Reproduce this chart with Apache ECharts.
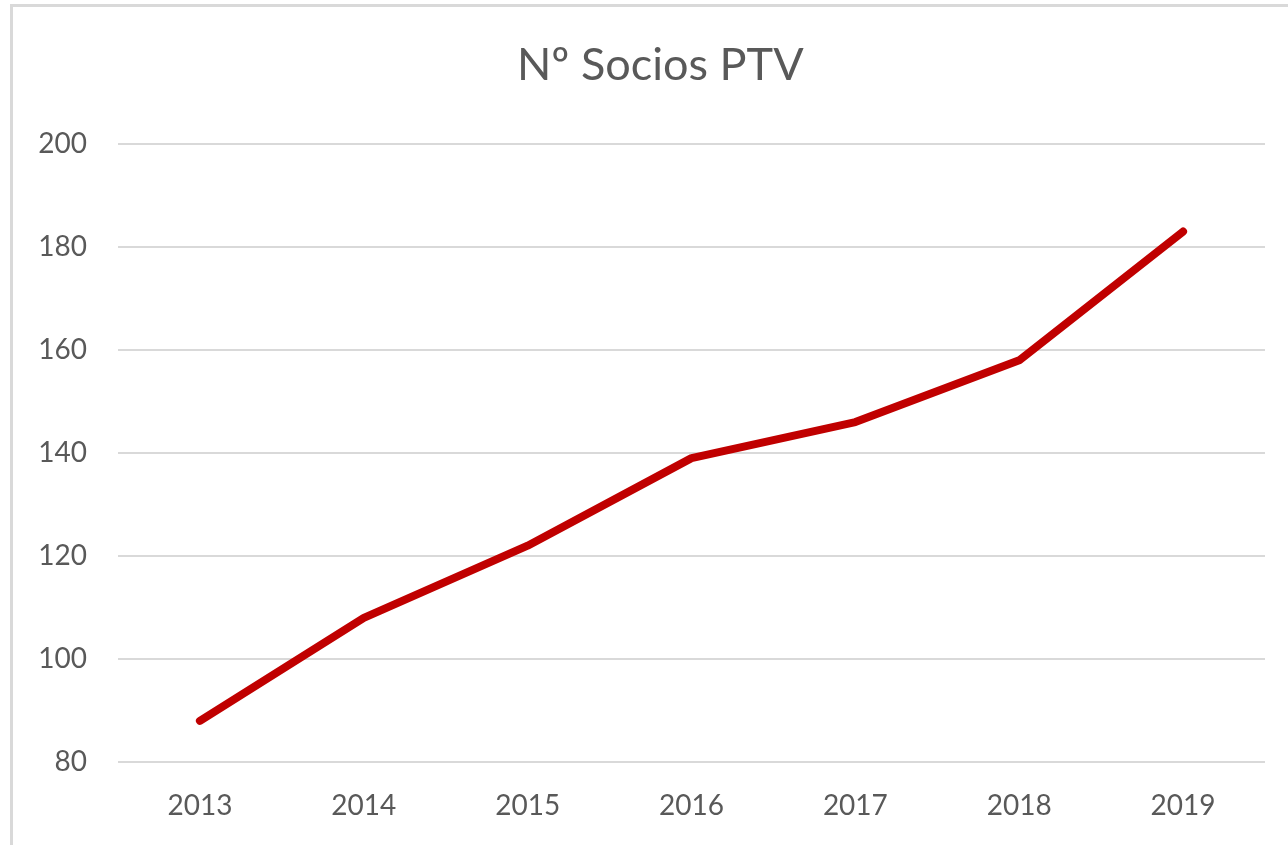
<!DOCTYPE html>
<html>
<head>
<meta charset="utf-8">
<script src="https://cdn.jsdelivr.net/npm/echarts@6/dist/echarts.min.js"></script>
<style>
  html, body { margin: 0; padding: 0; background: #fff; overflow: hidden; }
  #frame { position: absolute; left: 10px; top: 4px; width: 1400px; height: 1000px; border: 3px solid #d9d9d9; box-sizing: border-box; }
  #chart { position: absolute; left: 0; top: 0; width: 1288px; height: 845px; }
</style>
</head>
<body>
<div id="frame"></div>
<div id="chart"></div>
<script>
  const years = ['2013', '2014', '2015', '2016', '2017', '2018', '2019'];
  const socios = [88, 108, 122, 139, 146, 158, 183];

  const chart = echarts.init(document.getElementById('chart'));
  chart.setOption({
    animation: false,
    title: {
      text: 'Nº Socios PTV',
      left: 512,
      top: 38,
      textStyle: { fontFamily: 'Lato', fontSize: 45, fontWeight: 'normal', color: '#595959' }
    },
    grid: { left: 118, right: 23, top: 144, bottom: 83 },
    xAxis: {
      type: 'category',
      data: years,
      boundaryGap: true,
      axisLine: { show: false },
      axisTick: { show: false },
      axisLabel: { margin: 30, fontFamily: 'Lato', fontSize: 28, color: '#595959' }
    },
    yAxis: {
      type: 'value',
      min: 80,
      max: 200,
      interval: 20,
      axisLine: { show: false },
      axisTick: { show: false },
      axisLabel: { margin: 31, fontFamily: 'Lato', fontSize: 28, color: '#595959' },
      splitLine: { lineStyle: { color: '#d9d9d9', width: 2 } }
    },
    series: [{
      type: 'line',
      data: socios,
      showSymbol: false,
      lineStyle: { color: '#c00000', width: 8, cap: 'round', join: 'round' }
    }]
  });
</script>
</body>
</html>
